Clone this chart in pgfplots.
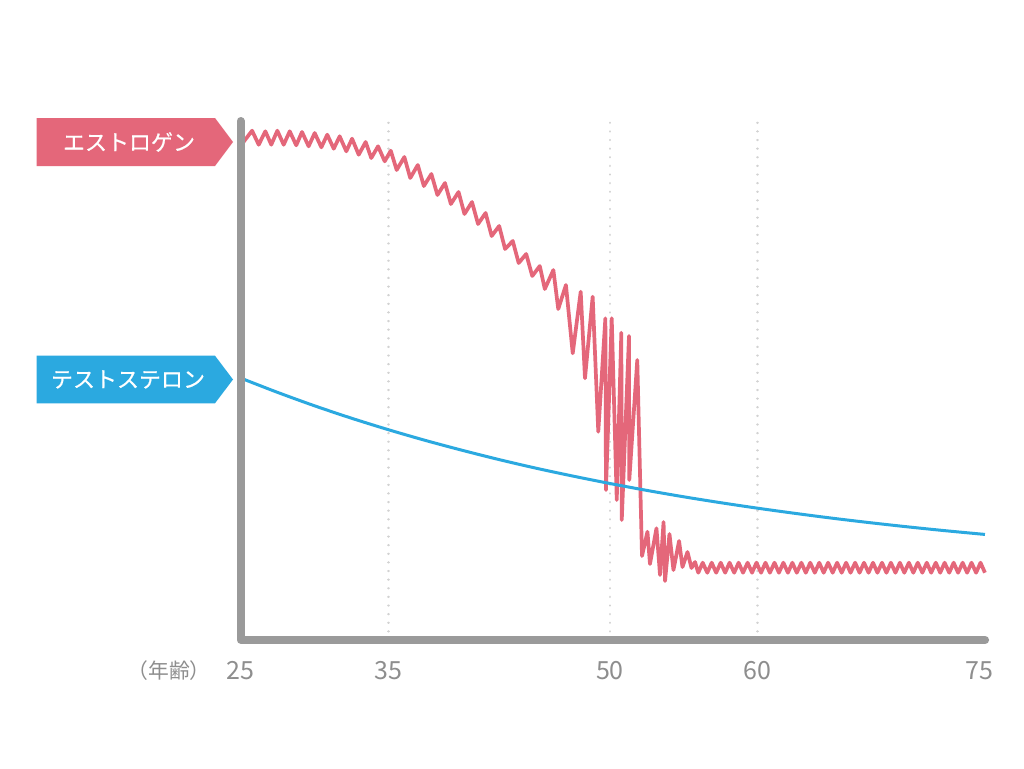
\documentclass[border=0pt]{standalone}
\usepackage{pgfplots}
\pgfplotsset{compat=1.18}
\usepackage{pgfplotstable}
\usepackage{fontspec}
\setmainfont{Noto Sans CJK JP}
\newfontfamily\tagfont{Noto Sans CJK JP}[FakeBold=0.6]
\definecolor{estro}{HTML}{E4677A}
\definecolor{testo}{HTML}{2BA9E0}
\definecolor{axisgray}{HTML}{9A9A9A}
\definecolor{ticktext}{HTML}{8E8E8E}
\definecolor{gridgray}{HTML}{D2D2D2}

\pgfplotstableread{
age level
25.16 497.5
25.77 509.3
26.22 495.3
26.67 508.7
27.07 495.3
27.48 509.3
27.91 495.3
28.32 508.7
28.76 494.7
29.15 508
29.60 493.7
30.01 507
30.46 492.7
30.86 505.3
31.30 491.3
31.70 503.7
32.15 488.7
32.54 501.3
32.99 485.3
33.46 498
33.84 482
34.30 493.7
34.75 478.7
35.16 489.3
35.56 470
36.08 483
36.48 462
36.99 475
37.40 454
37.91 466
38.32 445
38.83 457
39.23 436
39.75 448
40.15 426
40.66 438
41.07 416
41.58 427
41.99 404
42.50 414
42.90 391
43.42 399
43.82 377
44.33 386
44.74 364
45.25 374
45.59 351
46.17 370
46.50 331
47.02 355
47.48 286.7
48.02 348.3
48.31 261.7
48.83 343.3
49.21 208.3
49.69 321.7
49.73 150
50.12 321.7
50.46 140
50.77 307.3
50.80 120
51.29 304
51.31 160
51.85 280
52.17 84
52.54 108.3
52.71 76
53.15 111.7
53.39 65
53.63 118
53.73 59
54.03 106
54.30 70
54.68 99
54.91 73
55.25 88
55.52 72
55.76 78
55.98 67.3
56.28 77.3
56.59 67.3
56.89 77.3
57.19 67.3
57.50 77.3
57.80 67.3
58.10 77.3
58.41 67.3
58.71 77.3
59.01 67.3
59.32 77.3
59.62 67.3
59.92 77.3
60.23 67.3
60.53 77.3
60.83 67.3
61.14 77.3
61.44 67.3
61.74 77.3
62.05 67.3
62.35 77.3
62.65 67.3
62.96 77.3
63.26 67.3
63.56 77.3
63.87 67.3
64.17 77.3
64.47 67.3
64.77 77.3
65.08 67.3
65.38 77.3
65.69 67.3
65.99 77.3
66.29 67.3
66.60 77.3
66.90 67.3
67.20 77.3
67.51 67.3
67.81 77.3
68.11 67.3
68.42 77.3
68.72 67.3
69.02 77.3
69.33 67.3
69.63 77.3
69.93 67.3
70.24 77.3
70.54 67.3
70.84 77.3
71.15 67.3
71.45 77.3
71.75 67.3
72.06 77.3
72.36 67.3
72.66 77.3
72.97 67.3
73.27 77.3
73.57 67.3
73.88 77.3
74.18 67.3
74.48 77.3
74.79 67.3
75.09 77.3
75.39 67.3
}\estrogen

\pgfplotstableread{
age level
25.16 261
27.5 247.6
30 234.2
32.5 221.8
35 210.3
37.5 199.6
40 189.7
42.5 180.4
45 171.8
47.5 163.9
50 156.5
52.5 149.6
55 143.2
57.5 137.3
60 131.8
62.5 126.7
65 121.9
67.5 117.5
70 113.4
72.5 109.6
75 106.1
75.39 105.6
}\testosterone

\begin{document}
\begin{tikzpicture}[x=1pt,y=1pt]
\path[use as bounding box, fill=white] (0,0) rectangle (512,384);

% series tags
\fill[estro] (18.25,325) -- (107.5,325) -- (116.5,313) -- (107.5,301) -- (18.25,301) -- cycle;
\node[text=white, font=\tagfont\fontsize{11}{13}\selectfont, inner sep=0pt] at (64.5,313) {エストロゲン};
\fill[testo] (18.25,206.15) -- (107.5,206.15) -- (116.5,194.25) -- (107.5,182.35) -- (18.25,182.35) -- cycle;
\node[text=white, font=\tagfont\fontsize{11}{13}\selectfont, inner sep=0pt] at (64,194.25) {テストステロン};

% x axis unit label
\node[text=ticktext, font=\fontsize{10.4}{12}\selectfont, inner sep=0pt] at (84.5,48.5) {（年齢）};

\begin{axis}[
  at={(120.35pt,64pt)}, anchor=south west,
  scale only axis, width=372.2pt, height=259.5pt,
  xmin=25, xmax=75.4, ymin=0, ymax=519,
  clip=false,
  axis line style={draw=none},
  tick style={draw=none},
  ytick=\empty,
  xtick={25,35,50,60,75},
  xticklabels={25,35,50,60,75},
  xticklabel style={font=\fontsize{12.5}{14}\selectfont, text=ticktext, anchor=center, yshift=-15.5pt},
  extra x ticks={35,50,60},
  extra x tick labels={},
  extra x tick style={grid=major},
  major grid style={gridgray, line width=1.2pt, line cap=round, dash pattern=on 0.01pt off 4.3pt},
]
\addplot[estro, line width=1.85pt, line join=round, no markers] table[x=age, y=level] {\estrogen};
\addplot[testo, line width=1.5pt, smooth, no markers] table[x=age, y=level] {\testosterone};
\draw[axisgray, line width=4pt, line cap=round, line join=round] (axis cs:25,519) -- (axis cs:25,0) -- (axis cs:75.4,0);
\end{axis}
\end{tikzpicture}
\end{document}
